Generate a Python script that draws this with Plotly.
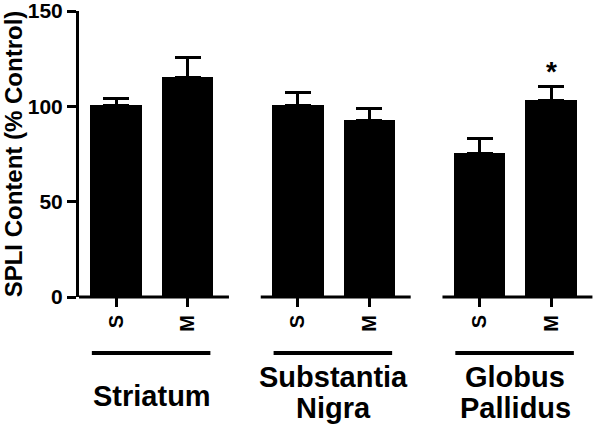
import plotly.graph_objects as go

# data
regions = ["Striatum", "Substantia\nNigra", "Globus\nPallidus"]
treatments = ["S", "M"]
mean_s = [100.5, 100.5, 75.5]
mean_m = [115.2, 92.7, 103.3]
sem_s = [3.5, 6.7, 7.5]
sem_m = [10.3, 6.4, 7.0]
significant_m = [False, False, True]
y_ticks = [0, 50, 100, 150]

FONT = "Liberation Sans, Arial, sans-serif"
group_gap = 2.545
bar_w = 0.72

fig = go.Figure()

xs, ys, errs, labels = [], [], [], []
for g in range(len(regions)):
    for t, (means, sems) in enumerate([(mean_s, sem_s), (mean_m, sem_m)]):
        xs.append(g * group_gap + t)
        ys.append(means[g])
        errs.append(sems[g])
        labels.append(treatments[t])

fig.add_trace(go.Bar(
    x=xs, y=ys, width=bar_w,
    marker=dict(color="black", line=dict(width=0)),
    error_y=dict(type="data", array=errs, arrayminus=[0] * len(errs),
                 symmetric=False, color="black", thickness=3, width=13),
    hoverinfo="x+y",
))

for g, name in enumerate(regions):
    c = g * group_gap + 0.5
    # broken baseline under each group
    fig.add_shape(type="line", xref="x", yref="paper", x0=c - 1.02, x1=c + 1.08,
                  y0=0, y1=0, line=dict(color="black", width=3))
    # group underline
    fig.add_shape(type="line", xref="x", yref="paper", x0=c - 0.84, x1=c + 0.82,
                  y0=-0.196, y1=-0.196, line=dict(color="black", width=4))
    lines = name.split("\n")
    if len(lines) == 1:
        shifts = [-99]
    else:
        shifts = [-80, -111]
    for text, ys_ in zip(lines, shifts):
        fig.add_annotation(x=c, xref="x", y=0, yref="paper", yshift=ys_,
                           text=text, showarrow=False, yanchor="middle",
                           font=dict(family=FONT, size=29, color="black", weight="bold"))

for g, sig in enumerate(significant_m):
    if sig:
        fig.add_annotation(x=g * group_gap + 1, y=mean_m[g] + sem_m[g], yref="y",
                           text="*", showarrow=False, yanchor="bottom", yshift=-2,
                           font=dict(family=FONT, size=28, color="black", weight="bold"))

fig.update_layout(
    width=601, height=435,
    margin=dict(l=79, r=5, t=11, b=138),
    plot_bgcolor="white", paper_bgcolor="white",
    showlegend=False,
    bargap=0,
    xaxis=dict(range=[-0.52, 6.72], tickmode="array", tickvals=xs, ticktext=labels,
               tickangle=-90, ticks="outside", ticklen=9, tickwidth=3, tickcolor="black",
               showline=False, showgrid=False, zeroline=False, automargin=False,
               tickfont=dict(family=FONT, size=20, color="black", weight="bold")),
    yaxis=dict(range=[0, 150], tickvals=y_ticks, ticks="outside", ticklen=9,
               tickwidth=3, tickcolor="black", showline=True, linewidth=3,
               linecolor="black", showgrid=False, zeroline=False, automargin=False,
               ticklabeloverflow="allow",
               tickfont=dict(family=FONT, size=21, color="black", weight="bold"),
               title=dict(text="SPLI Content (% Control)", standoff=8,
                          font=dict(family=FONT, size=24, color="black", weight="bold"))),
)

fig.write_html("out.html", config={"displayModeBar": False},
               post_script="document.body.style.margin='0';")
